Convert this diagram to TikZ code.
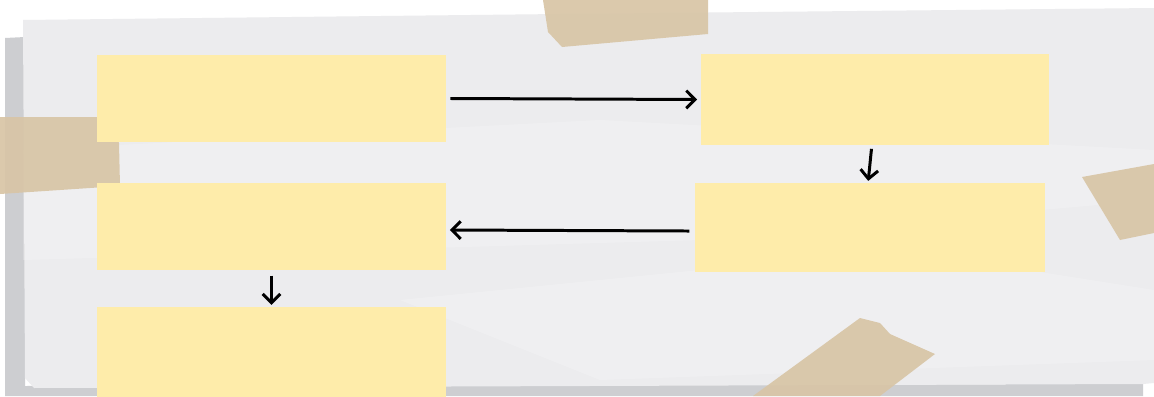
\documentclass[tikz,border=0pt]{standalone}
\usepackage{tikz}
\usetikzlibrary{arrows.meta,calc}
\definecolor{paper}{RGB}{236,236,238}
\definecolor{papershade}{RGB}{205,206,209}
\definecolor{notecol}{RGB}{254,236,170}
\definecolor{tapecol}{RGB}{216,197,166}

\begin{document}
\begin{tikzpicture}[x=0.02cm,y=-0.02cm,
    note/.style={fill=notecol,inner sep=0pt,minimum width=6.98cm,minimum height=1.74cm},
    flow/.style={line width=1.7pt,-{Straight Barb[length=5pt,width=10pt,line width=1.7pt]}},
    tape/.style={fill=tapecol,opacity=0.92}]
        \clip (0,0) rectangle (1154,396);
        \fill[white] (0,0) rectangle (1154,396);
        % paper and its shadow
        \fill[papershade] (5,38) -- (25,37) -- (25,386) -- (1143,384) -- (1143,396) -- (5,396) -- cycle;
        \fill[paper] (23,20) -- (560,14) -- (1154,8) -- (1154,383) -- (1143,384) -- (34,388) -- (25,378) -- cycle;
        \fill[white,opacity=0.2] (23,150) -- (600,120) -- (1154,150) -- (1154,200) -- (700,240) -- (23,260) -- cycle;
        \fill[white,opacity=0.2] (400,300) -- (900,250) -- (1154,290) -- (1154,360) -- (600,380) -- cycle;
        % tape
        \fill[tape] (543,0) -- (708,0) -- (708,34) -- (562,47) -- (548,32) -- cycle;
        \fill[tape] (0,117) -- (110,117) -- (119,143) -- (120,186) -- (60,190) -- (0,194) -- cycle;
        \fill[tape] (1082,177) -- (1154,164) -- (1154,233) -- (1120,240) -- cycle;
        \fill[tape] (753,396) -- (860,318) -- (880,323) -- (890,334) -- (935,354) -- (880,396) -- cycle;
        % notes
        \node[note] (n1) at (271.5,98.5) {};
        \node[note,minimum width=6.96cm,minimum height=1.82cm] (n2) at (875,99.5) {};
        \node[note,minimum width=7cm,minimum height=1.78cm] (n3) at (870,227.5) {};
        \node[note] (n4) at (271.5,226.5) {};
        \node[note,minimum height=1.84cm] (n5) at (271.5,353) {};
        % arrows
        \draw[flow] (n1.east) ++(4,0) -- ([xshift=-2pt]n2.west);
        \draw[flow] ([xshift=-2pt,yshift=-2pt]n2.south) -- ([xshift=-1pt,yshift=1pt]n3.north);
        \draw[flow] ([xshift=-3pt,yshift=-2pt]n3.west) -- ([xshift=2pt,yshift=-2pt]n4.east);
        \draw[flow] ([yshift=-3pt]n4.south) -- ([yshift=1pt]n5.north);
      \end{tikzpicture}
\end{document}
